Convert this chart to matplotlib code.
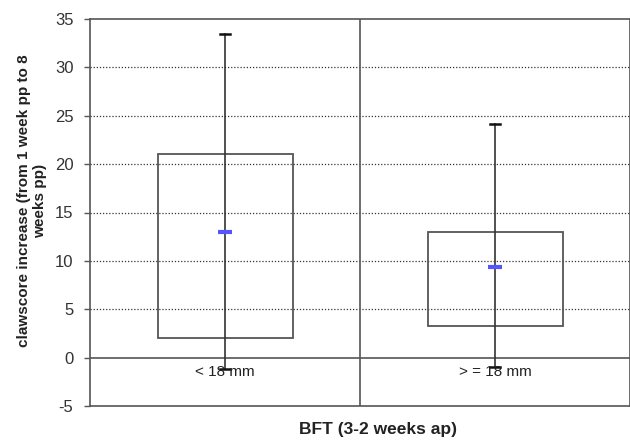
import matplotlib.pyplot as plt

plt.rcParams['axes.unicode_minus'] = False

# данные
groups = ['< 18 mm', '> = 18 mm']
box_low = [2.0, 3.3]
box_high = [21.0, 13.0]
means = [13.0, 9.4]
whisk_low = [-1.2, -1.0]
whisk_high = [33.5, 24.1]
y_ticks = [-5, 0, 5, 10, 15, 20, 25, 30, 35]

fig = plt.figure(figsize=(6.3, 4.41), dpi=100)
ax = fig.add_axes([90 / 630, 1 - 406 / 441, 1 - 90 / 630, (406 - 19) / 441])

ax.set_xlim(0, 2)
ax.set_ylim(-5, 35)

# пунктирная сетка
for y in y_ticks:
    if 0 < y < 35:
        ax.axhline(y, color='#333333', linestyle=(0, (1, 1.5)), linewidth=0.9, zorder=1)
ax.axhline(0, color='#555555', linewidth=1.2, zorder=2)
ax.axvline(1, color='#555555', linewidth=1.2, zorder=2)

for i, name in enumerate(groups):
    x = i + 0.5
    ax.bar(x, box_high[i] - box_low[i], bottom=box_low[i], width=0.5,
           facecolor='none', edgecolor='#555555', linewidth=1.3, zorder=3)
    ax.plot([x, x], [whisk_low[i], whisk_high[i]], color='#333333', linewidth=1.2, zorder=4)
    ax.plot([x - 0.017, x + 0.017], [whisk_high[i], whisk_high[i]], color='#111111', linewidth=1.8, zorder=4)
    ax.plot([x - 0.017, x + 0.017], [whisk_low[i], whisk_low[i]], color='#111111', linewidth=1.8, zorder=4)
    ax.plot(x, means[i], marker='_', markersize=10, markeredgewidth=3, color='#5555ff', zorder=5)
    ax.text(x, -0.8, name, ha='center', va='top', fontsize=11, color='#222222',
            family='Liberation Sans', zorder=6)

ax.set_xticks([])
ax.set_yticks(y_ticks)
ax.tick_params(axis='y', direction='out', length=4, width=1, color='#555555',
               labelsize=12, labelcolor='#333333', pad=8)
for lbl in ax.get_yticklabels():
    lbl.set_family('Liberation Sans')

for side in ['left', 'top', 'bottom', 'right']:
    ax.spines[side].set_color('#555555')
    ax.spines[side].set_linewidth(1.2)

ax.set_ylabel('clawscore increase (from 1 week pp to 8\nweeks pp)', fontsize=11,
              fontweight='bold', family='Liberation Sans', color='#222222')
ax.yaxis.set_label_coords(-0.08, 0.53)
ax.set_xlabel('BFT (3-2 weeks ap)', fontsize=12.5, fontweight='bold',
              family='Liberation Sans', color='#222222')
ax.xaxis.set_label_coords(0.533, -0.042)

fig.savefig('out.png', dpi=100)
